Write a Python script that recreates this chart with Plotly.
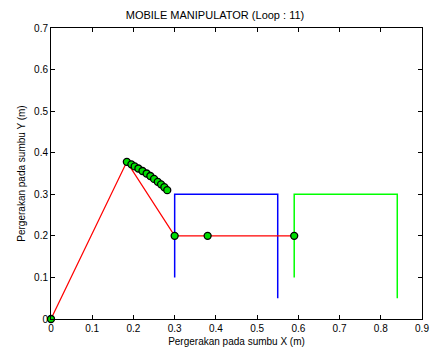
import plotly.graph_objects as go

# Blue and green frames
blue_x = [0.30, 0.30, 0.55, 0.55]
blue_y = [0.10, 0.30, 0.30, 0.05]
green_x = [0.59, 0.59, 0.84, 0.84]
green_y = [0.10, 0.30, 0.30, 0.05]

# Red manipulator links
red_x = [0.0, 0.184, 0.30, 0.59]
red_y = [0.0, 0.378, 0.20, 0.20]

# Joint markers
joint_x = [0.0, 0.30, 0.38, 0.59]
joint_y = [0.0, 0.20, 0.20, 0.20]

# Trace of first joint (loop history)
trail_x = [0.184, 0.195, 0.203, 0.212, 0.222, 0.232, 0.241, 0.250, 0.259, 0.267, 0.275, 0.282]
trail_y = [0.378, 0.372, 0.367, 0.362, 0.356, 0.350, 0.344, 0.337, 0.330, 0.324, 0.317, 0.310]

x_ticks = [0, 0.1, 0.2, 0.3, 0.4, 0.5, 0.6, 0.7, 0.8, 0.9]
y_ticks = [0, 0.1, 0.2, 0.3, 0.4, 0.5, 0.6, 0.7]

fig = go.Figure()
fig.add_trace(go.Scatter(x=blue_x, y=blue_y, mode="lines", line=dict(color="#0000ff", width=1.5)))
fig.add_trace(go.Scatter(x=green_x, y=green_y, mode="lines", line=dict(color="#00ff00", width=1.5)))
fig.add_trace(go.Scatter(x=red_x, y=red_y, mode="lines", line=dict(color="#ff0000", width=1.2)))
marker = dict(color="#00dd00", size=7, line=dict(color="black", width=1.3))
fig.add_trace(go.Scatter(x=trail_x, y=trail_y, mode="markers", marker=marker))
fig.add_trace(go.Scatter(x=joint_x, y=joint_y, mode="markers", marker=marker, cliponaxis=False))

axis_common = dict(
    showgrid=False, zeroline=False, showline=True, linecolor="black", linewidth=1,
    mirror="allticks", ticks="inside", ticklen=4, tickcolor="black", automargin=False,
    tickfont=dict(family="Liberation Sans, Arial", size=10, color="black"),
)
fig.update_layout(
    width=430, height=356,
    margin=dict(l=51, r=8, t=28, b=37),
    paper_bgcolor="white", plot_bgcolor="white",
    showlegend=False,
    title=dict(text="MOBILE MANIPULATOR (Loop : 11)", x=0.5, xanchor="center", y=0.957, yanchor="middle",
               font=dict(family="Liberation Sans, Arial", size=11, color="black")),
    xaxis=dict(range=[0, 0.9], tickvals=x_ticks, ticktext=[f"{v:g}" for v in x_ticks],
               title=dict(text="Pergerakan pada sumbu X (m)", standoff=4,
                          font=dict(family="Liberation Sans, Arial", size=10, color="black")),
               **axis_common),
    yaxis=dict(range=[0, 0.7], tickvals=y_ticks, ticktext=[f"{v:g}" for v in y_ticks],
               title=dict(text="Pergerakan pada sumbu Y (m)", standoff=6,
                          font=dict(family="Liberation Sans, Arial", size=10, color="black")),
               **axis_common),
)
fig.write_html("out.html")
